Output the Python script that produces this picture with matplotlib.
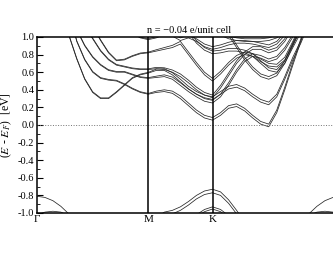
import numpy as np
import matplotlib
matplotlib.use('Agg')
import matplotlib.pyplot as plt
import matplotlib.ticker as ticker

plt.rcParams['font.family'] = ['Liberation Serif', 'DejaVu Serif']
plt.rcParams['mathtext.fontset'] = 'stix'
plt.rcParams['axes.unicode_minus'] = False

# path Γ-M-K-Γ (lengths in 2π/a), sampled with 14 / 8 / 16 steps
seg_len = [1 / np.sqrt(3), 1 / 3, 2 / 3]
seg_steps = [14, 8, 16]
k_labels = ['Γ', 'M', 'K', '']

# conduction bands (eV), one value per k node
c1 = [2.7, 2.3, 1.9, 1.45, 1.02, 0.75, 0.52, 0.37, 0.30, 0.30, 0.37, 0.45, 0.53, 0.57, 0.59,
      0.62, 0.62, 0.57, 0.49, 0.41, 0.35, 0.31, 0.29,
      0.35, 0.41, 0.43, 0.39, 0.32, 0.26, 0.23, 0.32, 0.52, 0.74, 0.93, 1.15, 1.55, 1.9, 2.3, 2.7]
c2 = [2.9, 2.5, 2.1, 1.7, 1.3, 0.95, 0.74, 0.60, 0.53, 0.51, 0.50, 0.46, 0.41, 0.37, 0.35,
      0.37, 0.38, 0.36, 0.30, 0.22, 0.14, 0.08, 0.055,
      0.11, 0.19, 0.21, 0.16, 0.08, 0.01, -0.02, 0.14, 0.40, 0.68, 0.95, 1.25, 1.7, 2.1, 2.5, 2.9]
c3 = [3.0, 2.6, 2.2, 1.8, 1.4, 1.08, 0.90, 0.77, 0.68, 0.62, 0.60, 0.60, 0.57, 0.54, 0.53,
      0.54, 0.55, 0.52, 0.45, 0.38, 0.32, 0.27, 0.25,
      0.32, 0.45, 0.60, 0.72, 0.78, 0.76, 0.72, 0.75, 0.85, 1.0, 1.2, 1.5, 1.8, 2.2, 2.6, 3.0]
c4 = [3.2, 2.8, 2.4, 2.0, 1.65, 1.35, 1.12, 0.98, 0.84, 0.74, 0.68, 0.66, 0.64, 0.63, 0.63,
      0.64, 0.63, 0.60, 0.55, 0.48, 0.40, 0.34, 0.31,
      0.42, 0.56, 0.70, 0.80, 0.86, 0.86, 0.82, 0.85, 0.95, 1.1, 1.3, 1.6, 1.9, 2.3, 2.7, 3.2]
c5 = [3.4, 3.0, 2.6, 2.2, 1.9, 1.6, 1.35, 1.12, 0.96, 0.82, 0.73, 0.74, 0.78, 0.81, 0.82,
      0.84, 0.86, 0.88, 0.92, 0.80, 0.68, 0.57, 0.50,
      0.58, 0.68, 0.76, 0.80, 0.78, 0.70, 0.62, 0.60, 0.70, 0.90, 1.1, 1.4, 1.8, 2.2, 2.6, 3.4]
c6 = [4.0, 3.6, 3.2, 2.8, 2.4, 2.1, 1.8, 1.55, 1.38, 1.25, 1.16, 1.10, 1.04, 0.99, 0.97,
      0.99, 1.03, 1.01, 0.96, 0.99, 0.95, 0.89, 0.86,
      0.88, 0.91, 0.93, 0.93, 0.92, 0.90, 0.88, 0.92, 1.02, 1.2, 1.5, 1.8, 2.2, 2.6, 3.0, 4.0]
c7 = [4.2, 3.8, 3.4, 3.0, 2.7, 2.4, 2.1, 1.9, 1.7, 1.55, 1.45, 1.38, 1.33, 1.30, 1.28,
      1.30, 1.33, 1.28, 1.18, 1.05, 0.93, 0.85, 0.81,
      0.82, 0.84, 0.84, 0.82, 0.78, 0.72, 0.67, 0.66, 0.74, 0.92, 1.12, 1.4, 1.8, 2.3, 2.8, 4.2]
c8 = [4.5, 4.1, 3.7, 3.3, 3.0, 2.7, 2.4, 2.2, 2.0, 1.85, 1.75, 1.65, 1.58, 1.52, 1.5,
      1.5, 1.5, 1.48, 1.45, 1.42, 1.38, 1.34, 1.3,
      1.15, 1.02, 0.88, 0.74, 0.63, 0.55, 0.52, 0.56, 0.70, 0.88, 1.05, 1.25, 1.6, 2.0, 2.6, 4.5]
c9 = [4.8, 4.4, 4.0, 3.6, 3.3, 3.0, 2.7, 2.5, 2.3, 2.1, 1.95, 1.85, 1.75, 1.68, 1.6,
      1.55, 1.45, 1.38, 1.3, 1.25, 1.2, 1.15, 1.1,
      1.02, 0.98, 0.96, 0.95, 0.95, 0.95, 0.96, 0.99, 1.06, 1.2, 1.4, 1.7, 2.0, 2.5, 3.0, 4.8]
cond_bands = [c1, c2, c3, c4, c5, c6, c7, c8, c9]
# splitting of each conduction pair
cond_split = [0.008] * 15 + [0.015, 0.02, 0.025, 0.03, 0.03, 0.03, 0.03, 0.03] + [0.03] * 16

# valence bands
v1 = [-0.81, -0.823, -0.86, -0.924, -1.01, -1.15, -1.3, -1.5, -1.7, -1.9] + [-2.0] * 19 + \
     [-1.9, -1.7, -1.5, -1.3, -1.15, -1.01, -0.924, -0.86, -0.823, -0.81]
v2 = [-1.02, -0.99, -0.98, -0.99, -1.03, -1.1, -1.2] + [-1.3] * 25 + \
     [-1.2, -1.1, -1.03, -0.99, -0.98, -0.99, -1.02]
v3 = [-1.6] * 13 + [-1.2, -1.1, -1.05, -0.99, -0.97, -0.93, -0.87, -0.80, -0.75, -0.73,
                    -0.76, -0.85, -0.97, -1.1, -1.3] + [-1.6] * 11
v4 = [-1.4] * 19 + [-1.1, -1.02, -0.96, -0.93, -0.96, -1.03, -1.1] + [-1.4] * 13
val_bands = [(v1, 0.0), (v2, 0.0), (v3, 0.04), (v4, 0.025)]

# k grid
k_nodes = [0.0]
for L, n in zip(seg_len, seg_steps):
    k_nodes += list(np.linspace(k_nodes[-1], k_nodes[-1] + L, n + 1)[1:])
k_nodes = np.array(k_nodes)
k_ticks = np.cumsum([0] + seg_len)

fig = plt.figure(figsize=(3.33, 2.58), dpi=100)
ax = fig.add_axes([37 / 333, 1 - 213 / 258, 304 / 333, 176 / 258])

split = np.array(cond_split)
for b in cond_bands:
    b = np.array(b)
    ax.plot(k_nodes, b, color='0.15', lw=0.55)
    ax.plot(k_nodes, b + split, color='0.15', lw=0.55)
for b, s in val_bands:
    b = np.array(b)
    ax.plot(k_nodes, b, color='0.15', lw=0.55)
    if s:
        ax.plot(k_nodes, b - s, color='0.15', lw=0.55)

ax.axhline(0, color='0.45', ls=':', lw=0.7)
for kk in k_ticks[1:3]:
    ax.axvline(kk, color='k', lw=1.1)

ax.set_xlim(0, k_ticks[-1])
ax.set_ylim(-1.0, 1.0)
ax.set_xticks(k_ticks)
ax.set_xticklabels(k_labels, fontsize=8)
ax.tick_params(axis='x', length=0, pad=1.5)
ax.yaxis.set_major_locator(ticker.MultipleLocator(0.2))
ax.yaxis.set_minor_locator(ticker.MultipleLocator(0.1))
ax.yaxis.set_major_formatter(ticker.FormatStrFormatter('%.1f'))
ax.tick_params(axis='y', which='major', direction='in', length=4, width=0.8, labelsize=7.5, pad=2)
ax.tick_params(axis='y', which='minor', direction='in', length=2, width=0.6)
for sp in ax.spines.values():
    sp.set_linewidth(1.1)

ax.set_ylabel(r'($E$ - $E_F$)  [eV]', fontsize=8.5)
ax.yaxis.set_label_coords(-0.075, 0.5)
ax.set_title('n = \u22120.04 e/unit cell', fontsize=7.5, pad=3)

plt.savefig('out.png', dpi=100)
